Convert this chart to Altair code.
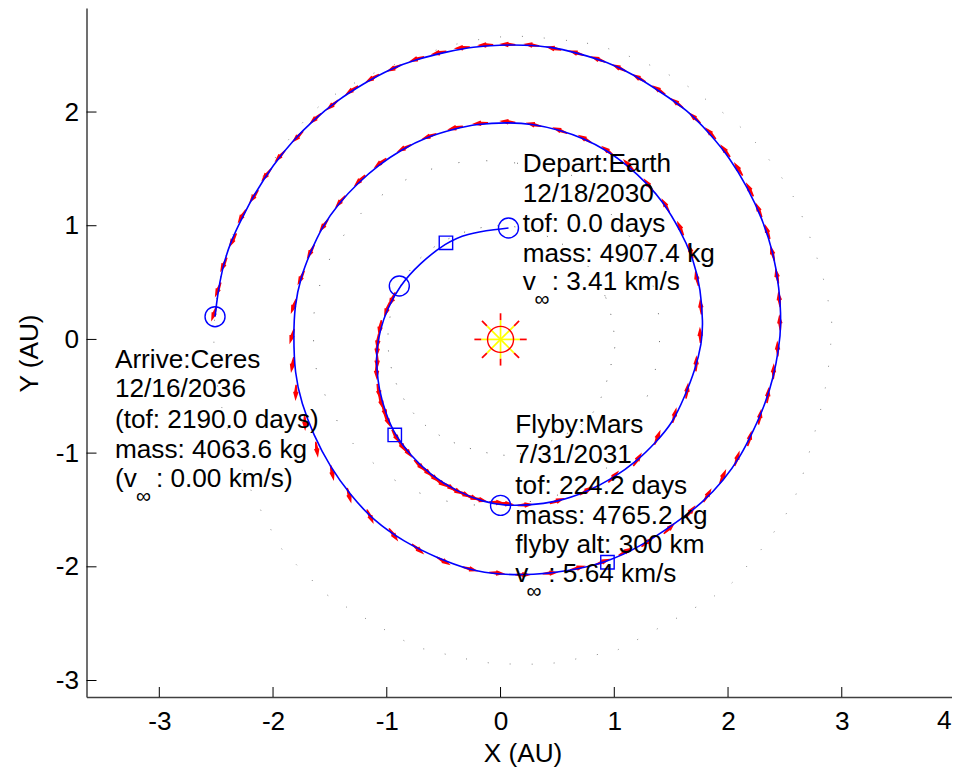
import altair as alt
import pandas as pd

FONT = "Liberation Sans"
FS = 26.2

traj_x = [0.07,-0.03,-0.30,-0.48,-0.71,-0.89,-1.00,-1.06,-1.09,-1.09,-1.07,-1.01,-0.93,-0.79,-0.62,-0.38,-0.15,0.03,0.23,0.50,0.76,0.99,1.20,1.36,1.51,1.62,1.71,1.77,1.78,1.76,1.70,1.58,1.43,1.29,1.11,0.94,0.73,0.525,0.29,0.06,-0.21,-0.41,-0.65,-0.87,-1.07,-1.26,-1.42,-1.57,-1.67,-1.76,-1.81,-1.82,-1.81,-1.75,-1.645,-1.50,-1.32,-1.12,-0.85,-0.56,-0.27,0.00,0.29,0.58,0.94,1.23,1.52,1.785,1.96,2.11,2.225,2.33,2.40,2.445,2.47,2.45,2.40,2.30,2.17,2.02,1.84,1.64,1.40,1.17,0.94,0.67,0.44,0.20,0.00,-0.24,-0.47,-0.735,-0.97,-1.205,-1.44,-1.645,-1.82,-2.00,-2.16,-2.275,-2.38,-2.45,-2.49,-2.51]
traj_y = [0.98,0.97,0.93,0.85,0.67,0.47,0.26,0.08,-0.09,-0.24,-0.44,-0.65,-0.84,-1.02,-1.19,-1.34,-1.43,-1.46,-1.46,-1.43,-1.34,-1.22,-1.07,-0.91,-0.74,-0.50,-0.27,-0.03,0.145,0.435,0.70,0.96,1.21,1.37,1.535,1.66,1.77,1.84,1.895,1.91,1.895,1.85,1.78,1.67,1.535,1.37,1.20,0.99,0.77,0.54,0.29,0.04,-0.30,-0.56,-0.84,-1.12,-1.37,-1.59,-1.78,-1.92,-2.03,-2.07,-2.07,-2.04,-1.96,-1.82,-1.63,-1.43,-1.24,-1.03,-0.80,-0.56,-0.33,-0.09,0.13,0.46,0.76,1.065,1.34,1.59,1.81,2.02,2.18,2.33,2.44,2.52,2.575,2.59,2.59,2.575,2.53,2.465,2.38,2.25,2.10,1.93,1.755,1.535,1.285,1.065,0.845,0.61,0.375,0.20]

arrow_x = [-0.135,-0.34,-0.545,-0.74,-0.94,-1.13,-1.31,-1.48,-1.63,-1.785,-1.94,-2.06,-2.17,-2.275,-2.355,-2.435,-2.485,-2.52,
           0.06,0.27,0.465,0.665,0.855,1.04,1.215,1.39,1.55,1.705,1.845,1.975,2.09,2.19,2.27,2.345,2.39,2.43,2.45,2.455,
           2.435,2.40,2.35,2.28,2.19,2.08,1.955,1.82,1.67,1.485,1.295,1.10,0.90,0.68,0.44,0.20,
           -0.03,-0.265,-0.50,-0.725,-0.94,-1.145,-1.33,-1.48,-1.615,-1.72,-1.80,-1.83,-1.835,
           -1.82,-1.755,-1.67,-1.555,-1.41,-1.24,-1.06,-0.85,-0.63,-0.40,-0.18,
           0.06,0.29,0.52,0.74,0.94,1.125,1.30,1.45,1.58,1.67,1.725,1.76,
           1.755,1.72,1.64,1.53,1.38,1.205,0.995,0.755,0.50,0.22,
           0.05,-0.03,-0.18,-0.25,-0.32,-0.39,-0.45,-0.525,-0.59,-0.65,-0.71,-0.82,-0.87,-0.92,-0.995,-1.02,-1.05,-1.07,-1.09,-1.085,-1.085,-1.08,-1.06,-1.00,-0.955]
arrow_y = [2.59,2.565,2.52,2.465,2.385,2.295,2.19,2.06,1.94,1.78,1.61,1.445,1.255,1.08,0.87,0.655,0.435,0.225,
           2.595,2.59,2.56,2.52,2.465,2.39,2.30,2.195,2.08,1.95,1.815,1.66,1.50,1.32,1.14,0.95,0.76,0.56,0.355,0.15,
           -0.08,-0.28,-0.49,-0.68,-0.87,-1.045,-1.205,-1.37,-1.515,-1.66,-1.78,-1.865,-1.955,-2.01,-2.055,-2.07,
           -2.055,-2.02,-1.95,-1.845,-1.72,-1.56,-1.375,-1.175,-0.97,-0.735,-0.47,-0.225,0.025,
           0.29,0.54,0.77,1.00,1.21,1.395,1.55,1.68,1.785,1.86,1.90,
           1.915,1.89,1.84,1.765,1.66,1.535,1.36,1.18,0.98,0.78,0.54,0.29,
           0.04,-0.21,-0.45,-0.665,-0.86,-1.055,-1.205,-1.33,-1.42,-1.455,
           -1.445,-1.435,-1.41,-1.39,-1.36,-1.33,-1.295,-1.26,-1.21,-1.16,-1.11,-0.985,-0.93,-0.855,-0.71,-0.63,-0.55,-0.46,-0.285,-0.195,-0.09,-0.02,0.10,0.26,0.35]
arrow_heading = [268,265,258,252,245,240,235,230,228,225,222,218,215,211,208,205,202,200,
                 272,277,282,287,291,296,300,304,308,312,317,322,327,332,337,341,345,349,353,356,
                 358,2,6,10,14,18,24,30,38,45,52,60,68,75,85,90,
                 95,105,120,130,145,155,165,168,172,178,182,190,197,
                 200,205,208,215,220,225,232,243,250,258,265,
                 275,283,292,300,308,316,323,330,336,342,348,355,
                 358,2,8,14,22,32,42,58,70,85,
                 95,95,105,110,115,118,122,125,130,132,135,142,148,150,155,160,163,168,178,180,183,187,190,200,205]

earth_x = [1.00,0.92,0.71,0.38,0.00,-0.38,-0.71,-0.92,-0.99,-0.92,-0.71,-0.38,0.07,0.38,0.71,0.88,0.99]
earth_y = [0.04,0.38,0.71,0.92,1.00,0.92,0.71,0.38,0.00,-0.38,-0.71,-0.92,-1.02,-0.92,-0.75,-0.52,-0.14]
mars_x = [0.00,0.145,0.50,0.75,0.965,1.155,1.29,1.37,1.40,1.36,1.27,1.08,0.88,0.60,0.30,-0.15,-0.38,-0.66,-0.91,-1.115,-1.31,-1.44,-1.56,-1.63,-1.645,-1.645,-1.625,-1.57,-1.475,-1.335,-1.175,-0.97,-0.75,-0.51,-0.25]
mars_y = [1.565,1.55,1.50,1.35,1.11,0.875,0.63,0.34,0.04,-0.27,-0.55,-0.97,-1.17,-1.33,-1.42,-1.455,-1.44,-1.37,-1.25,-1.09,-0.90,-0.71,-0.445,-0.21,0.025,0.165,0.32,0.54,0.76,0.975,1.16,1.32,1.445,1.525,1.57]
ceres_x = [0.20,0.76,1.05,1.34,1.61,1.87,2.17,2.415,2.61,2.81,2.89,2.91,2.86,2.74,2.59,2.40,2.17,1.89,1.08,0.90,0.71,0.52,0.33,0.135,-0.055,-0.25,-0.435,-0.63,-0.82,-1.505,-1.66,-1.805,-1.94,-2.25,-2.45,-2.52,-2.45,-2.2,-1.7,-1.2,-0.62,-0.355,-0.09]
ceres_y = [2.665,2.605,2.52,2.40,2.25,2.06,1.81,1.505,1.18,0.63,0.285,0.075,-0.40,-0.90,-1.38,-1.70,-1.99,-2.25,-2.705,-2.76,-2.80,-2.84,-2.855,-2.855,-2.85,-2.82,-2.78,-2.73,-2.665,-2.26,-2.115,-1.97,-1.815,-1.20,-0.60,-0.02,0.60,1.25,1.95,2.30,2.525,2.605,2.65]

circle_x = [0.07,-0.89,0.00,-2.51]
circle_y = [0.98,0.47,-1.46,0.20]
square_x = [-0.48,-0.93,0.94]
square_y = [0.85,-0.84,-1.96]

ray_x1 = [0.17,0.12,0.00,-0.12,-0.17,-0.12,0.00,0.12]
ray_y1 = [0.00,0.12,0.17,0.12,0.00,-0.12,-0.17,-0.12]
ray_x2 = [0.23,0.163,0.00,-0.163,-0.23,-0.163,0.00,0.163]
ray_y2 = [0.00,0.163,0.23,0.163,0.00,-0.163,-0.23,-0.163]

x_ticks = [-3,-2,-1,0,1,2,3]
y_ticks = [-3,-2,-1,0,1,2]

text_x = [0.195]*4 + [-3.39]*4 + [0.13]*5
text_y = [1.473,1.209,0.945,0.681, -0.25,-0.51,-0.78,-1.045, -0.82,-1.09,-1.36,-1.625,-1.88]
text_s = ["Depart:Earth","12/18/2030","tof: 0.0 days","mass: 4907.4 kg",
          "Arrive:Ceres","12/16/2036","(tof: 2190.0 days)","mass: 4063.6 kg",
          "Flyby:Mars","7/31/2031","tof: 224.2 days","mass: 4765.2 kg","flyby alt: 300 km"]
vtext_x = [0.195,0.45,-3.39,-3.03,0.13,0.42]
vtext_y = [0.436,0.436,-1.30,-1.30,-2.135,-2.135]
vtext_s = ["v",": 3.41 km/s","(v",": 0.00 km/s)","v",": 5.64 km/s"]
inf_x = [0.365,-3.14,0.295]
inf_y = [0.345,-1.39,-2.22]

H = 689
W = 865.5
X = alt.X("x:Q", scale=alt.Scale(domain=[-3.64,3.969], nice=False, zero=False),
          axis=alt.Axis(values=x_ticks, ticks=False, grid=False, title="X (AU)", labelExpr="'' + datum.value",
                        labelFont=FONT, labelFontSize=FS, labelColor="black", labelPadding=11, labelFlush=False,
                        titleFont=FONT, titleFontSize=FS, titleFontWeight="normal", titleColor="black",
                        titleX=436, titleY=64.7, titleBaseline="alphabetic", titleAlign="center",
                        domainColor="#404040", domainWidth=1.5))
Y = alt.Y("y:Q", scale=alt.Scale(domain=[-3.145,2.915], nice=False, zero=False),
          axis=alt.Axis(values=y_ticks, ticks=False, grid=False, title="Y (AU)", labelExpr="'' + datum.value",
                        labelFont=FONT, labelFontSize=FS, labelColor="black", labelPadding=8, labelFlush=False,
                        titleFont=FONT, titleFontSize=FS, titleFontWeight="normal", titleColor="black",
                        titleX=-49, titleY=345, titleBaseline="alphabetic", titleAlign="center",
                        domainColor="#404040", domainWidth=1.5))

def orbit(xs, ys, dash, color):
    df = pd.DataFrame({"x": xs, "y": ys, "i": range(len(xs))})
    return alt.Chart(df).mark_line(color=color, strokeWidth=1, strokeDash=dash,
                                   interpolate="cardinal-closed").encode(x=X, y=Y, order="i:Q")

arrow_path = "M0,-1 L0.34,0.1 L0.2,0.15 L0.09,1 L-0.09,1 L-0.2,0.15 L-0.34,0.1 Z"
arrows = alt.Chart(pd.DataFrame({"x": arrow_x, "y": arrow_y, "a": arrow_heading})).mark_point(
    shape=arrow_path, filled=True, color="#ff0000", opacity=1, size=260, strokeWidth=0
).encode(x=X, y=Y, angle=alt.Angle("a:Q", scale=None))

traj = alt.Chart(pd.DataFrame({"x": traj_x, "y": traj_y, "i": range(len(traj_x))})).mark_line(
    color="#0000ff", strokeWidth=1.6, interpolate="basis"
).encode(x=X, y=Y, order="i:Q")

circles = alt.Chart(pd.DataFrame({"x": circle_x, "y": circle_y})).mark_point(
    shape="circle", filled=False, color="#0000ff", size=400, strokeWidth=1.4, opacity=1
).encode(x=X, y=Y)
squares = alt.Chart(pd.DataFrame({"x": square_x, "y": square_y})).mark_point(
    shape="square", filled=False, color="#0000ff", size=180, strokeWidth=1.4, opacity=1
).encode(x=X, y=Y)

rays = pd.DataFrame({"x": ray_x1, "y": ray_y1, "x2": ray_x2, "y2": ray_y2})
rays_in = pd.DataFrame({"x": [0]*8, "y": [0]*8, "x2": ray_x1, "y2": ray_y1})
sun_in = alt.Chart(rays_in).mark_rule(color="#ffff00", strokeWidth=1.7).encode(x=X, y=Y, x2="x2:Q", y2="y2:Q")
sun_out = alt.Chart(rays).mark_rule(color="#ff0000", strokeWidth=1.7).encode(x=X, y=Y, x2="x2:Q", y2="y2:Q")
sun_disc = alt.Chart(pd.DataFrame({"x": [0], "y": [0]})).mark_point(
    shape="circle", filled=False, color="#ff0000", size=676, strokeWidth=1.4, opacity=1
).encode(x=X, y=Y)

xt = alt.Chart(pd.DataFrame({"x": x_ticks})).mark_rule(color="black", strokeWidth=1).encode(
    x=X, y=alt.value(H), y2=alt.value(H - 10))
yt = alt.Chart(pd.DataFrame({"y": y_ticks})).mark_rule(color="black", strokeWidth=1).encode(
    y=Y, x=alt.value(0), x2=alt.value(10))

def texts(xs, ys, ss, size):
    return alt.Chart(pd.DataFrame({"x": xs, "y": ys, "s": ss})).mark_text(
        font=FONT, fontSize=size, align="left", baseline="alphabetic", color="black"
    ).encode(x=X, y=Y, text="s:N")

labels = texts(text_x, text_y, text_s, FS)
vlabels = texts(vtext_x, vtext_y, vtext_s, FS)
infs = alt.Chart(pd.DataFrame({"x": inf_x, "y": inf_y, "s": ["∞"]*3})).mark_text(
    font=FONT, fontSize=21, align="center", baseline="middle", color="black"
).encode(x=X, y=Y, text="s:N")
last_tick = alt.Chart(pd.DataFrame({"x": [3.965], "y": [-3.425], "s": ["4"]})).mark_text(
    font=FONT, fontSize=FS, align="right", baseline="alphabetic", color="black"
).encode(x=X, y=Y, text="s:N")

chart = alt.layer(
    orbit(earth_x, earth_y, [1, 16], "#666666"),
    orbit(mars_x, mars_y, [1, 27], "#666666"),
    orbit(ceres_x, ceres_y, [1, 21], "#888888"),
    arrows, traj, circles, squares, sun_in, sun_out, sun_disc, xt, yt, labels, vlabels, infs, last_tick
).properties(
    width=W, height=H,
    autosize=alt.AutoSizeParams(type="none", contains="content"),
    padding={"left": 78.5, "top": 0, "right": 0, "bottom": 71},
    background="white",
).configure_view(stroke=None)

chart.save("out.html", embed_options={"renderer": "svg", "actions": False})
